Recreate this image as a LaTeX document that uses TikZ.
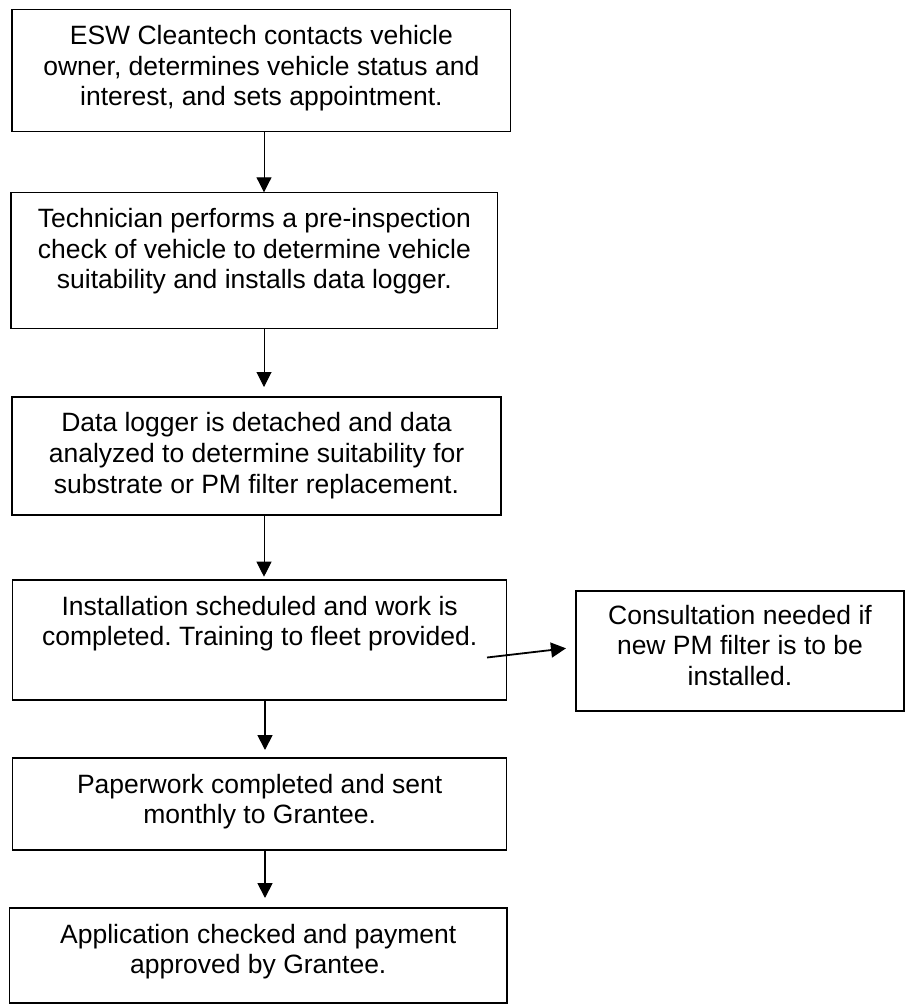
\documentclass[tikz,border=0pt]{standalone}
\usepackage{fontspec}
\setmainfont{Liberation Sans}
\usetikzlibrary{arrows.meta}
\frenchspacing
\newcommand{\bxtext}[4]{\parbox[c][#2][t]{#1}{\centering\fontsize{26.5}{30.8}\selectfont\vspace*{#3}#4\par}}
\tikzset{
  boxnode/.style={draw=black, line width=1.5pt, rectangle, inner sep=0pt, outer sep=0pt, anchor=north west},
  thinarr/.style={draw=black, line width=1pt, -{Triangle[length=15pt,width=15pt]}},
  thickarr/.style={draw=black, line width=1.8pt, -{Triangle[length=15pt,width=15pt]}}
}
\begin{document}
\begin{tikzpicture}[x=1pt,y=-1pt]
\useasboundingbox (0,0) rectangle (907,1005);
\fill[white] (0,0) rectangle (907,1005);
\node[boxnode] (b1) at (12,9.3) {\bxtext{498.7pt}{122.4pt}{13.5pt}{\strut ESW Cleantech contacts vehicle\\owner, determines vehicle status and\\interest, and sets appointment.}};
\node[boxnode] (b2) at (11,192.3) {\bxtext{486.7pt}{136pt}{13.5pt}{\strut Technician performs a pre-inspection\\check of vehicle to determine vehicle\\suitability and installs data logger.}};
\node[boxnode] (b3) at (12,397) {\bxtext{489pt}{118pt}{13pt}{\strut Data logger is detached and data\\analyzed to determine suitability for\\substrate or PM filter replacement.}};
\node[boxnode] (b4) at (12.7,580) {\bxtext{494pt}{120pt}{13.5pt}{\strut Installation scheduled and work is\\completed. Training to fleet provided.}};
\node[boxnode] (b5) at (576,591) {\bxtext{328pt}{120pt}{11.5pt}{\strut Consultation needed if\\new PM filter is to be\\installed.}};
\node[boxnode] (b6) at (12.7,758) {\bxtext{494pt}{92pt}{13.5pt}{\strut Paperwork completed and sent\\monthly to Grantee.}};
\node[boxnode] (b7) at (9.5,908) {\bxtext{497.5pt}{95pt}{13.5pt}{\strut Application checked and payment\\approved by Grantee.}};
\coordinate (ax) at (264,0);
\coordinate (bx) at (265,0);
\draw[thinarr] (ax |- b1.south) -- (ax |- b2.north);
\draw[thinarr, shorten >=10pt] (ax |- b2.south) -- (ax |- b3.north);
\draw[thinarr, shorten >=3.3pt] (ax |- b3.south) -- (ax |- b4.north);
\draw[thickarr, shorten >=8pt] (bx |- b4.south) -- (bx |- b6.north);
\draw[thickarr, shorten >=10pt] (bx |- b6.south) -- (bx |- b7.north);
\coordinate (hs) at (487,657.5);
\coordinate (he) at (566,648.3);
\draw[thickarr] (hs) -- (he);
\end{tikzpicture}
\end{document}
